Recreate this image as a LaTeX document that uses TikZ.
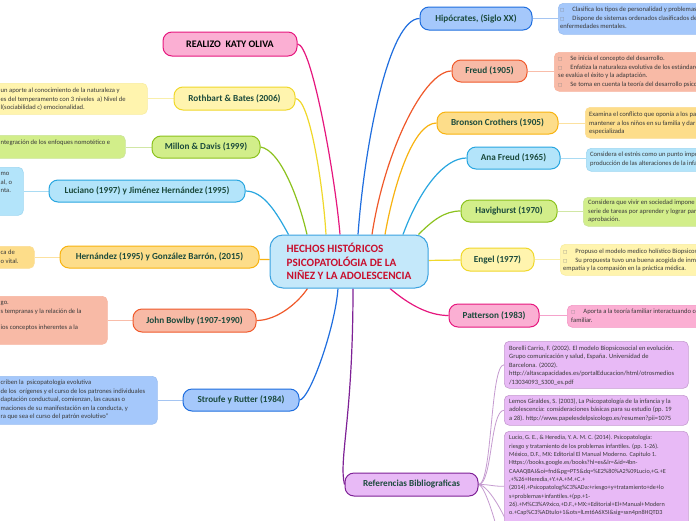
\documentclass[tikz,border=0pt]{standalone}
\usepackage{fontspec}
\setmainfont{Carlito}
\newfontfamily\symfont{DejaVu Sans}
\usetikzlibrary{backgrounds}
\definecolor{pinkB}{HTML}{E6177E}\definecolor{pinkF}{HTML}{FBAFD3}
\definecolor{yelB}{HTML}{F0D82A}\definecolor{yelF}{HTML}{FFF4AE}
\definecolor{grnB}{HTML}{8CC21E}\definecolor{grnF}{HTML}{D2EE8A}
\definecolor{lbB}{HTML}{28A6E0}\definecolor{lbF}{HTML}{B3E4FA}
\definecolor{orB}{HTML}{F8B310}\definecolor{orF}{HTML}{FDDD8A}
\definecolor{salB}{HTML}{F0592A}\definecolor{salF}{HTML}{F8BAA6}
\definecolor{blB}{HTML}{1F6EDF}\definecolor{blF}{HTML}{A5C8FB}
\definecolor{puB}{HTML}{7E2196}\definecolor{puF}{HTML}{E8BAF6}
\definecolor{cenF}{HTML}{C4E8FA}\definecolor{cenB}{HTML}{3AA2E0}
\definecolor{cenT}{HTML}{C8102E}
\definecolor{topT}{HTML}{1B4A3C}
\definecolor{detT}{HTML}{3A3A3A}
\newcommand\bx{{\color{gray}\symfont\fontsize{4.5}{4.5}\selectfont\char"25A1}\hspace{8pt}}
\tikzset{
  topic/.style={draw, line width=1pt, rounded corners=9pt, inner sep=0pt, text=topT,
    font=\fontsize{9.2}{11}\selectfont\bfseries},
  dbox/.style={line width=0.6pt, rounded corners=5pt, inner sep=0pt, anchor=north west},
  dtext/.style={anchor=north west, inner sep=0pt, align=left, text=detT,
    font=\fontsize{6.6}{8.4}\selectfont},
  rtext/.style={anchor=north west, inner sep=0pt, align=left, text=detT,
    font=\fontsize{6.5}{8.5}\selectfont},
  conn/.style={line width=1.2pt},
  dline/.style={line width=1pt}
}
\begin{document}
\begin{tikzpicture}[x=1pt,y=-1pt]
\useasboundingbox (0,0) rectangle (696,520);
% central
\node[draw=cenB, fill=cenF, line width=1pt, rounded corners=13pt, minimum width=158pt, minimum height=53pt,
  inner sep=0pt, align=left, text=cenT, font=\fontsize{11.2}{13.5}\selectfont\bfseries] (cen) at (349,261.5)
  {HECHOS HISTÓRICOS\\PSICOPATOLÓGIA DE LA\\NIÑEZ Y LA ADOLESCENCIA};
% topics left
\node[topic, fill=pinkF, draw=pinkB, text=black, font=\fontsize{10}{12}\selectfont\bfseries,
  minimum width=134pt, minimum height=24pt] (realizo) at (230,44) {REALIZO\ \ KATY OLIVA};
\node[topic, fill=yelF, draw=yelB, minimum width=121pt, minimum height=23pt] (roth) at (234.5,98.5) {Rothbart \& Bates (2006)};
\node[topic, fill=grnF, draw=grnB, minimum width=108pt, minimum height=22pt] (millon) at (206,147) {Millon \& Davis (1999)};
\node[topic, fill=lbF, draw=lbB, minimum width=196pt, minimum height=22pt] (luc) at (147,191) {Luciano (1997) y Jiménez Hernández (1995)};
\node[topic, fill=orF, draw=orB, minimum width=199pt, minimum height=22pt] (hern) at (159.5,257) {Hernández (1995) y González Barrón, (2015)};
\node[topic, fill=salF, draw=salB, minimum width=123pt, minimum height=23pt] (bowl) at (194.5,320.5) {John Bowlby (1907-1990)};
\node[topic, fill=blF, draw=blB, minimum width=116pt, minimum height=22pt] (str) at (241,400) {Stroufe y Rutter (1984)};
% topics right
\node[topic, fill=blF, draw=blB, minimum width=112pt, minimum height=23pt] (hipo) at (476,18.5) {Hipócrates, (Siglo XX)};
\node[topic, fill=salF, draw=salB, minimum width=75pt, minimum height=22pt] (freud) at (489.5,71) {Freud (1905)};
\node[topic, fill=orF, draw=orB, minimum width=121pt, minimum height=22pt] (bron) at (497.5,123) {Bronson Crothers (1905)};
\node[topic, fill=lbF, draw=lbB, minimum width=93pt, minimum height=22pt] (ana) at (513.5,158) {Ana Freud (1965)};
\node[topic, fill=grnF, draw=grnB, minimum width=96pt, minimum height=22pt] (havig) at (509,211) {Havighurst (1970)};
\node[topic, fill=yelF, draw=yelB, minimum width=73pt, minimum height=23pt] (engel) at (497.5,259.5) {Engel (1977)};
\node[topic, fill=pinkF, draw=pinkB, minimum width=90pt, minimum height=23pt] (patt) at (494,315.5) {Patterson (1983)};
\node[topic, fill=puF, draw=puB, minimum width=133pt, minimum height=23pt] (refs) at (411.5,484.5) {Referencias Bibliograficas};
% detail boxes right
\node[dbox, fill=blF, draw=blB!45, minimum width=160pt, minimum height=31pt] (dhipo) at (558,3) {};
\node[dtext] (thipo) at (560,7.2) {\bx Clasifica los tipos de personalidad y problemas de conducta\\\bx Dispone de sistemas ordenados clasificados de las\\enfermedades mentales.};
\node[dbox, fill=salF, draw=salB!45, minimum width=160pt, minimum height=39pt] (dfreud) at (554,52) {};
\node[dtext] (tfreud) at (558,56.2) {\bx Se inicia el concepto del desarrollo.\\\bx Enfatiza la naturaleza evolutiva de los estándares con\\se evalúa el éxito y la adaptación.\\\bx Se toma en cuenta la teoría del desarrollo psicosexual.};
\node[dbox, fill=orF, draw=orB!45, minimum width=130pt, minimum height=31pt] (dbron) at (585,107) {};
\node[dtext] (tbron) at (589,112.2) {Examina el conflicto que oponía a los padres al\\mantener a los niños en su familia y dar atención\\especializada};
\node[dbox, fill=lbF, draw=lbB!45, minimum width=130pt, minimum height=23pt] (dana) at (586,148) {};
\node[dtext] (tana) at (590,152.2) {Considera el estrés como un punto importante en la\\producción de las alteraciones de la infancia.};
\node[dbox, fill=grnF, draw=grnB!45, minimum width=130pt, minimum height=29pt] (dhavig) at (583,197) {};
\node[dtext] (thavig) at (588,200.2) {Considera que vivir en sociedad impone una\\serie de tareas por aprender y lograr para su\\aprobación.};
\node[dbox, fill=yelF, draw=yelB!45, minimum width=150pt, minimum height=31pt] (dengel) at (560,244) {};
\node[dtext] (tengel) at (563,249.2) {\bx Propuso el modelo medico holístico Biopsicosocial.\\\bx Su propuesta tuvo una buena acogida de inmediato\\empatía y la compasión en la práctica médica.};
\node[dbox, fill=pinkF, draw=pinkB!45, minimum width=140pt, minimum height=22pt] (dpatt) at (567,305) {};
\node[dtext] (tpatt) at (571,309.2) {\bx Aporta a la teoría familiar interactuando con el\\familiar.};
% detail boxes left
\node[dbox, fill=yelF, draw=yelB!45, minimum width=167pt, minimum height=31pt] (droth) at (-20,83) {};
\node[dtext] (troth) at (0.5,88.2) {un aporte al conocimiento de la naturaleza y\\es del temperamento con 3 niveles\ \ a) Nivel de\\l(sociabilidad c) emocionalidad.};
\node[dbox, fill=grnF, draw=grnB!45, minimum width=145pt, minimum height=23pt] (dmillon) at (-20,135) {};
\node[dtext] (tmillon) at (0.5,140.2) {ntegración de los enfoques nomotético e};
\node[dbox, fill=lbF, draw=lbB!45, minimum width=43pt, minimum height=48pt] (dluc) at (-20,167) {};
\node[dtext] (tluc) at (0.5,172.2) {mo\\al, o\\nta.};
\node[dbox, fill=orF, draw=orB!45, minimum width=54pt, minimum height=22pt] (dhern) at (-20,246) {};
\node[dtext] (thern) at (0.5,250.2) {ca de\\o vital.};
\node[dbox, fill=salF, draw=salB!45, minimum width=127pt, minimum height=48pt] (dbowl) at (-20,296) {};
\node[dtext] (tbowl) at (0.5,301.2) {go.\\s tempranas y la relación de la\\[8.4pt]ios conceptos inherentes a la};
\node[dbox, fill=blF, draw=blB!45, minimum width=177pt, minimum height=48pt] (dstr) at (-20,376) {};
\node[dtext] (tstr) at (0.5,380.2) {criben la\ \ psicopatología evolutiva\\de los\ \ orígenes y el curso de los patrones individuales\\daptación conductual, comienzan, las causas o\\maciones de su manifestación en la conducta, y\\ra que sea el curso del patrón evolutivo"};
% reference boxes
\node[dbox, fill=puF, draw=puB!45, minimum width=184pt, minimum height=47pt] (ref1) at (504,341) {};
\node[rtext] (tref1) at (509,345.2) {Borelli Carrio, F. (2002). El modelo Biopsicosocial en evolución.\\Grupo comunicación y salud, España. Universidad de\\Barcelona. (2002).\\http://altascapacidades.es/portalEducacion/html/otrosmedios\\/13034093\_S300\_es.pdf};
\node[dbox, fill=puF, draw=puB!45, minimum width=184pt, minimum height=30pt] (ref2) at (504,395) {};
\node[rtext] (tref2) at (509,398.2) {Lemos Giraldes, S. (2003), La Psicopatología de la infancia y la\\adolescencia: consideraciones básicas para su estudio (pp. 19\\a 28). http://www.papelesdelpsicologo.es/resumen?pii=1075};
\node[dbox, fill=puF, draw=puB!45, minimum width=184pt, minimum height=110pt] (ref3) at (504,431) {};
\node[rtext, font=\fontsize{6.2}{8.3}\selectfont] (tref3) at (509,435.2) {Lucio, G. E., \& Heredia, Y. A. M. C. (2014). Psicopatología:\\riesgo y tratamiento de los problemas infantiles. (pp. 1-26).\\México, D.F., MX: Editorial El Manual Moderno. Capitulo 1.\\Https://books.google.es/books?hl=es\&lr=\&id=4bn-\\CAAAQBAJ\&oi=fnd\&pg=PT5\&dq=\%E2\%80\%A2\%09Lucio,+G.+E\\,+\%26+Heredia,+Y.+A.+M.+C.+\\(2014).+Psicopatolog\%C3\%ADa:+riesgo+y+tratamiento+de+lo\\s+problemas+infantiles.+(pp.+1-\\26).+M\%C3\%A9xico,+D.F.,+MX:+Editorial+El+Manual+Modern\\o.+Cap\%C3\%ADtulo+1\&ots=lLmt6A6X5I\&sig=sxn4pn8HQTD3};
\coordinate (ref4) at (520,560);
\coordinate (ref5) at (515,640);
\begin{scope}[on background layer]
\fill[white] (0,0) rectangle (696,520);
% main connectors left
\draw[conn, pinkB] (realizo.east) .. controls +(14,0) and +(-5,-60) .. ([xshift=-9pt]cen.north);
\draw[conn, yelB] (roth.east) .. controls +(14,0) and +(-3,-50) .. ([xshift=-23pt]cen.north);
\draw[conn, grnB] (millon.east) .. controls +(20,3) and +(-8,-35) .. ([xshift=-42pt]cen.north);
\draw[conn, lbB] (luc.east) .. controls +(18,0) and +(-12,-22) .. ([xshift=19pt]cen.north west);
\draw[conn, orB] (hern) -- (cen);
\draw[conn, salB] (bowl.east) .. controls +(20,0) and +(-10,15) .. ([xshift=38pt]cen.south west);
\draw[conn, blB] (str.east) .. controls +(10,0) and +(-3,40) .. ([xshift=-11pt]cen.south);
\draw[conn, puB] ([xshift=4pt]cen.south) .. controls +(0,130) and +(-6,-25) .. (refs.west);
% main connectors right
\draw[conn, blB] ([xshift=9pt]cen.north) .. controls +(7,-95) and +(-30,0) .. (hipo.west);
\draw[conn, salB] ([xshift=23pt]cen.north) .. controls +(13,-85) and +(-27,0) .. (freud.west);
\draw[conn, orB] ([xshift=36pt]cen.north) .. controls +(10,-56) and +(-22,0) .. (bron.west);
\draw[conn, lbB] ([xshift=54pt]cen.north) .. controls +(17,-46) and +(-22,0) .. (ana.west);
\draw[conn, grnB] ([xshift=-10pt]cen.north east) .. controls +(14,-14) and +(-16,0) .. (havig.west);
\draw[conn, yelB] (cen) -- (engel);
\draw[conn, pinkB] ([xshift=41pt]cen.south) .. controls +(20,17) and +(-19,0) .. (patt.west);
% detail connectors
\draw[dline, blB!40] (hipo.east) -- (hipo.east -| dhipo.west);
\draw[dline, salB!40] (freud.east) -- (freud.east -| dfreud.west);
\draw[dline, orB!40] (bron.east) -- (bron.east -| dbron.west);
\draw[dline, lbB!40] (ana.east) -- (ana.east -| dana.west);
\draw[dline, grnB!40] (havig.east) -- (havig.east -| dhavig.west);
\draw[dline, yelB!40] (engel.east) -- (engel.east -| dengel.west);
\draw[dline, pinkB!40] (patt.east) -- (patt.east -| dpatt.west);
\draw[dline, yelB!40] (roth.west) -- (roth.west -| droth.east);
\draw[dline, grnB!40] (millon.west) -- (millon.west -| dmillon.east);
\draw[dline, lbB!40] (luc.west) -- (luc.west -| dluc.east);
\draw[dline, orB!40] (hern.west) -- (hern.west -| dhern.east);
\draw[dline, salB!40] (bowl.west) -- (bowl.west -| dbowl.east);
\draw[dline, blB!40] (str.west) -- (str.west -| dstr.east);
% reference connectors
\draw[line width=0.8pt, puB!45] (refs.east) .. controls +(14,0) and +(-14,0) .. (ref1.west);
\draw[line width=0.8pt, puB!45] (refs.east) .. controls +(14,0) and +(-14,0) .. (ref2.west);
\draw[line width=0.8pt, puB!45] (refs.east) .. controls +(14,0) and +(-14,0) .. (ref3.west);
\draw[line width=0.8pt, puB!45] (refs.east) .. controls +(10,0) and +(-10,-40) .. (ref4);
\draw[line width=0.8pt, puB!45] (refs.east) .. controls +(8,0) and +(-5,-80) .. (ref5);
\end{scope}
\end{tikzpicture}
\end{document}
